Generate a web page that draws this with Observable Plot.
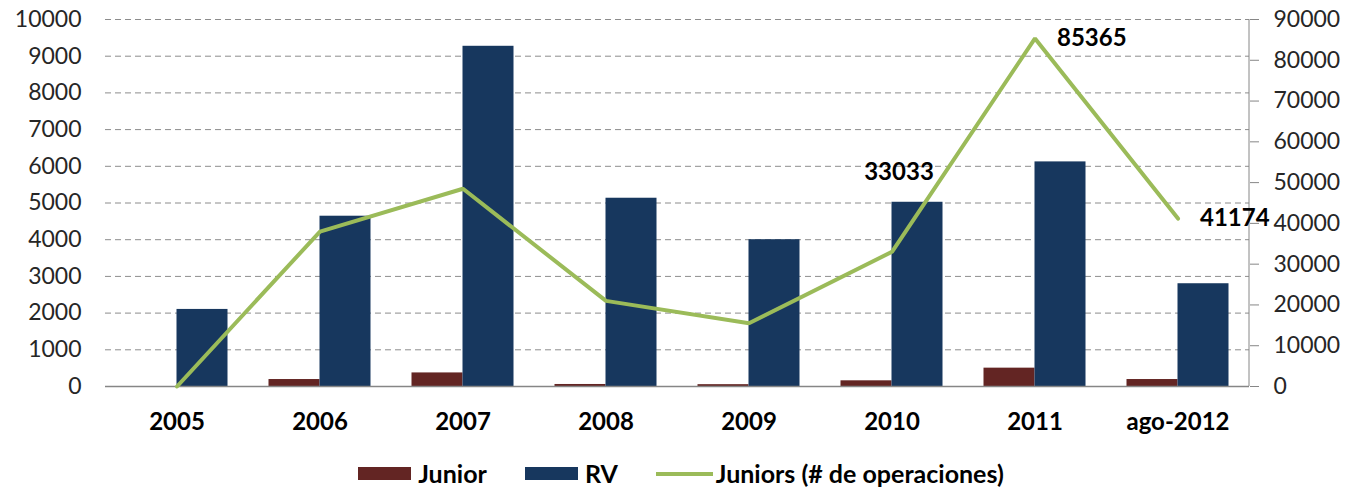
<!DOCTYPE html>
<html>
<head>
<meta charset="utf-8">
<script src="https://cdn.jsdelivr.net/npm/d3@7"></script>
<script src="https://cdn.jsdelivr.net/npm/@observablehq/plot@0.6"></script>
<style>
  html, body { margin: 0; padding: 0; background: #fff; }
  #chart { width: 1350px; height: 489px; position: relative; font-family: Lato, sans-serif; }
  .legend { position: absolute; left: 6px; top: 458px; width: 1350px; height: 31px; line-height: 31px; display: flex; justify-content: center; align-items: center; font-family: Lato, sans-serif; font-weight: bold; font-size: 25px; color: #000; }
  .legend .item { display: flex; align-items: center; }
  .legend .sw { width: 53px; height: 13px; margin-right: 7px; }
  .legend .ln { width: 57px; height: 4px; margin-right: 3px; }
</style>
</head>
<body>
<div id="chart"></div>
<script>
const years = ["2005", "2006", "2007", "2008", "2009", "2010", "2011", "ago-2012"];
const junior = [0, 190, 370, 55, 50, 155, 500, 190];
const rv = [2100, 4640, 9270, 5130, 4000, 5020, 6120, 2800];
const juniorsOps = [0, 38000, 48500, 21000, 15500, 33033, 85365, 41174];
const leftTicks = [0, 1000, 2000, 3000, 4000, 5000, 6000, 7000, 8000, 9000, 10000];
const rightTicks = [0, 10000, 20000, 30000, 40000, 50000, 60000, 70000, 80000, 90000];
const labeledOps = ["2010", "2011", "ago-2012"];

const colJunior = "#632523";
const colRV = "#17375e";
const colLine = "#9bbb59";
const ratio = 90000 / 10000;

const rows = years.map((y, i) => ({year: y, junior: junior[i], rv: rv[i], ops: juniorsOps[i]}));
const labelRows = rows.filter(d => labeledOps.includes(d.year));

const W = 1350, H = 448;
const mL = 105, mR = 101, mT = 19, mB = 62;

const rightAxisLine = (index, scales, values, dimensions) => {
  const x = dimensions.width - dimensions.marginRight;
  const g = d3.create("svg:g");
  g.append("line")
    .attr("x1", x).attr("x2", x)
    .attr("y1", dimensions.marginTop).attr("y2", dimensions.height - dimensions.marginBottom)
    .attr("stroke", "#868686").attr("stroke-width", 1);
  return g.node();
};

const plot = Plot.plot({
  width: W,
  height: H,
  marginLeft: mL,
  marginRight: mR,
  marginTop: mT,
  marginBottom: mB,
  style: {fontFamily: "Lato, sans-serif", fontSize: "23px", color: "#262626", background: "#fff"},
  x: {type: "band", domain: years, padding: 0, label: null},
  y: {domain: [0, 10000], label: null},
  marks: [
    Plot.ruleY(leftTicks.filter(t => t > 0), {stroke: "#8c8c8c", strokeDasharray: "6,4", strokeWidth: 1}),
    Plot.barY(rows, {x: "year", y: "junior", fill: colJunior, insetLeft: 20.5, insetRight: 71.5}),
    Plot.barY(rows, {x: "year", y: "rv", fill: colRV, insetLeft: 71.5, insetRight: 20.5}),
    Plot.ruleY([0], {stroke: "#868686", strokeWidth: 1.5}),
    rightAxisLine,
    Plot.lineY(rows, {x: "year", y: d => d.ops / ratio, stroke: colLine, strokeWidth: 4, strokeLinejoin: "miter"}),
    Plot.text(labelRows.filter(d => d.year === "2010"), {x: "year", y: d => d.ops / ratio, text: d => String(d.ops), dx: 7, dy: -79, fontWeight: "bold", fill: "#000", fontSize: 24}),
    Plot.text(labelRows.filter(d => d.year !== "2010"), {x: "year", y: d => d.ops / ratio, text: d => String(d.ops), dx: 22, dy: 0, textAnchor: "start", fontWeight: "bold", fill: "#000", fontSize: 24}),
    Plot.axisY(leftTicks, {anchor: "left", tickSize: 0, tickPadding: 24, label: null, fill: "#262626", tickFormat: d => String(d)}),
    Plot.axisY(rightTicks.map(t => t / ratio), {anchor: "right", tickSize: 9, tickPadding: 15, stroke: "#868686", label: null, fill: "#262626", tickFormat: d => String(Math.round(d * ratio))}),
    Plot.axisX({anchor: "bottom", tickSize: 0, tickPadding: 26, label: null, fontWeight: "bold", fill: "#000", fontSize: 24})
  ]
});

const chart = document.getElementById("chart");
chart.appendChild(plot);

const legend = document.createElement("div");
legend.className = "legend";
legend.innerHTML = `
  <div class="item"><div class="sw" style="background:${colJunior}"></div><span>Junior</span></div>
  <div class="item" style="margin-left:38px"><div class="sw" style="background:${colRV}"></div><span>RV</span></div>
  <div class="item" style="margin-left:38px"><div class="ln" style="background:${colLine}"></div><span>Juniors (# de operaciones)</span></div>`;
chart.appendChild(legend);
</script>
</body>
</html>
